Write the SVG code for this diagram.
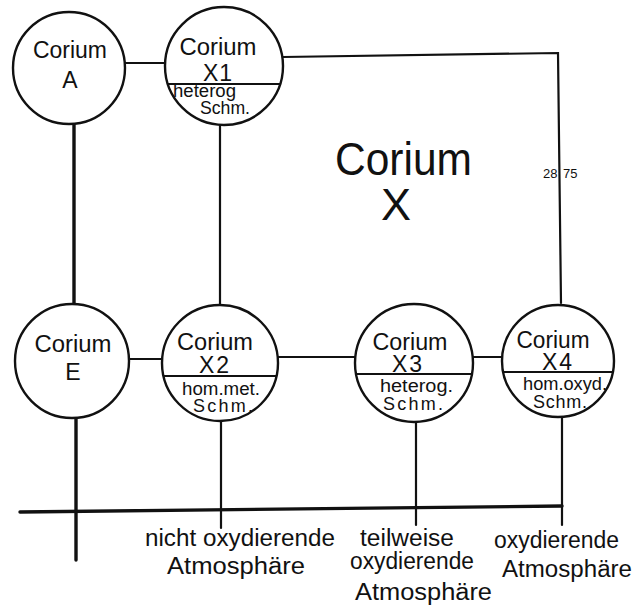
<svg xmlns="http://www.w3.org/2000/svg" width="637" height="610" viewBox="0 0 637 610">
<style>
.c{fill:#fff;stroke:#111;stroke-width:2.4}
.d{stroke:#111;stroke-width:2.2}
.l{stroke:#111;stroke-width:2.2;fill:none;stroke-linecap:round}
.k{stroke-width:3.4}
.t{font-family:"Liberation Sans",Arial,sans-serif;fill:#111}
.m{font-size:23px;text-anchor:middle}
.s{font-size:18px}
.b{font-size:23px}
</style>
<rect width="637" height="610" fill="#fff"/>
<g id="connectors">
<line class="l" x1="125" y1="63" x2="165" y2="63"/>
<polyline class="l" points="283,57 558,53 561,303"/>
<line class="l k" x1="74" y1="125" x2="74" y2="304"/>
<line class="l" x1="220" y1="125" x2="220" y2="305"/>
<line class="l" x1="128" y1="359" x2="162" y2="359"/>
<line class="l" x1="277" y1="357" x2="355" y2="357"/>
<line class="l" x1="473" y1="357" x2="502" y2="357"/>
<line class="l k" x1="76" y1="418" x2="76" y2="560"/>
<line class="l" x1="221" y1="421" x2="221" y2="528"/>
<line class="l" x1="416" y1="422" x2="416" y2="525"/>
<line class="l" x1="562" y1="417" x2="562" y2="525"/>
<line class="l k" x1="20" y1="512" x2="562" y2="506"/>
</g>
<g id="corium-a">
<circle class="c" cx="69" cy="68" r="56"/>
<text class="t m" x="70" y="58" textLength="74" lengthAdjust="spacingAndGlyphs">Corium</text>
<text class="t m" x="70" y="88">A</text>
</g>
<g id="corium-x1">
<circle class="c" cx="224" cy="66" r="59"/>
<line class="d" x1="168" y1="84" x2="280" y2="84"/>
<text class="t m" x="218" y="55" textLength="77" lengthAdjust="spacingAndGlyphs">Corium</text>
<text class="t m" x="218" y="81" letter-spacing="1">X1</text>
<text class="t s" x="173" y="97" textLength="63" lengthAdjust="spacingAndGlyphs">heterog</text>
<text class="t s" x="200" y="114" textLength="50" lengthAdjust="spacingAndGlyphs">Schm.</text>
</g>
<g id="corium-x">
<text class="t" x="335" y="175" font-size="47" textLength="137" lengthAdjust="spacingAndGlyphs">Corium</text>
<text class="t" x="396" y="220" font-size="45" text-anchor="middle">X</text>
<text class="t" x="543" y="178" font-size="13">28</text>
<text class="t" x="563" y="178" font-size="13">75</text>
</g>
<g id="corium-e">
<circle class="c" cx="72" cy="361" r="57"/>
<text class="t m" x="73" y="352" textLength="77" lengthAdjust="spacingAndGlyphs">Corium</text>
<text class="t m" x="73" y="380">E</text>
</g>
<g id="corium-x2">
<circle class="c" cx="220" cy="363" r="58"/>
<line class="d" x1="163" y1="376" x2="277" y2="376"/>
<text class="t m" x="215" y="350" textLength="76" lengthAdjust="spacingAndGlyphs">Corium</text>
<text class="t m" x="215" y="373" letter-spacing="2">X2</text>
<text class="t s" x="182" y="395" textLength="78" lengthAdjust="spacingAndGlyphs">hom.met.</text>
<text class="t s" x="193" y="412" textLength="60" lengthAdjust="spacing">Schm.</text>
</g>
<g id="corium-x3">
<circle class="c" cx="414" cy="363" r="59"/>
<line class="d" x1="356" y1="374" x2="472" y2="374"/>
<text class="t m" x="410" y="350" textLength="75" lengthAdjust="spacingAndGlyphs">Corium</text>
<text class="t m" x="408" y="372" letter-spacing="2">X3</text>
<text class="t s" x="380" y="392" textLength="73" lengthAdjust="spacingAndGlyphs">heterog.</text>
<text class="t s" x="383" y="410" textLength="60" lengthAdjust="spacing">Schm.</text>
</g>
<g id="corium-x4">
<circle class="c" cx="558" cy="361" r="56"/>
<line class="d" x1="503" y1="372" x2="613" y2="372"/>
<text class="t m" x="553" y="348" textLength="73" lengthAdjust="spacingAndGlyphs">Corium</text>
<text class="t m" x="558" y="370" letter-spacing="2">X4</text>
<text class="t s" x="523" y="390" textLength="84" lengthAdjust="spacingAndGlyphs">hom.oxyd.</text>
<text class="t s" x="533" y="408" textLength="54" lengthAdjust="spacing">Schm.</text>
</g>
<g id="labels">
<text class="t b" x="145" y="546" textLength="190" lengthAdjust="spacingAndGlyphs">nicht oxydierende</text>
<text class="t b" x="167" y="574" textLength="138" lengthAdjust="spacingAndGlyphs">Atmosphäre</text>
<text class="t b" x="360" y="546" textLength="94" lengthAdjust="spacingAndGlyphs">teilweise</text>
<text class="t b" x="350" y="569" textLength="124" lengthAdjust="spacingAndGlyphs">oxydierende</text>
<text class="t b" x="355" y="600" textLength="137" lengthAdjust="spacingAndGlyphs">Atmosphäre</text>
<text class="t b" x="494" y="548" textLength="125" lengthAdjust="spacingAndGlyphs">oxydierende</text>
<text class="t b" x="502" y="577" textLength="130" lengthAdjust="spacingAndGlyphs">Atmosphäre</text>
</g>
</svg>
